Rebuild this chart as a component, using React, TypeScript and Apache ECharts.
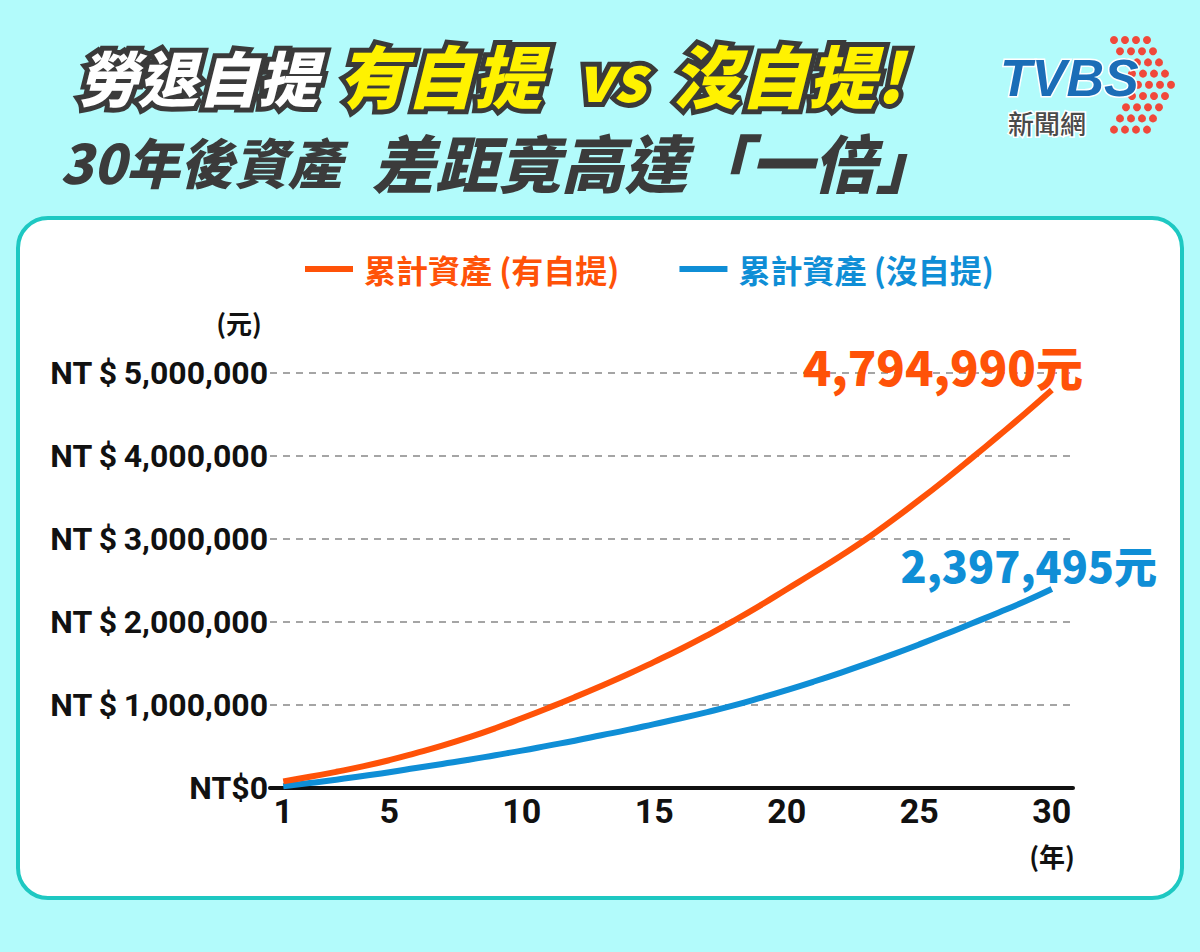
import React, { useEffect, useRef } from "react";
import * as echarts from "echarts";

const years = [1, 2, 3, 4, 5, 6, 7, 8, 9, 10, 11, 12, 13, 14, 15, 16, 17, 18, 19, 20, 21, 22, 23, 24, 25, 26, 27, 28, 29, 30];
const withdrawValues = [80000, 135000, 195000, 260000, 335000, 420000, 510000, 610000, 720000, 840000, 965000, 1095000, 1230000, 1370000, 1520000, 1675000, 1840000, 2015000, 2200000, 2395000, 2590000, 2790000, 3000000, 3230000, 3470000, 3720000, 3980000, 4245000, 4515000, 4794990];
const noWithdrawValues = [20000, 60000, 100000, 145000, 190000, 240000, 290000, 340000, 395000, 450000, 510000, 570000, 635000, 700000, 770000, 840000, 915000, 995000, 1085000, 1180000, 1280000, 1385000, 1495000, 1610000, 1730000, 1855000, 1985000, 2115000, 2250000, 2397495];
const xTickLabels = [1, 5, 10, 15, 20, 25, 30];
const yTickLabels = ["NT$0", "NT\u2009$\u20091,000,000", "NT\u2009$\u20092,000,000", "NT\u2009$\u20093,000,000", "NT\u2009$\u20094,000,000", "NT\u2009$\u20095,000,000"];
const seriesNames = ["累計資產 (有自提)", "累計資產 (沒自提)"];
const seriesColors = ["#ff5208", "#0f8ed6"];

const CJK = '"Noto Sans CJK TC", "Noto Sans CJK SC", sans-serif';
const NUM = 'Roboto, "Noto Sans", sans-serif';

function dots() {
  const out: any[] = [];
  const shifts = [0, 6, 12, 18, 24, 18, 12, 6, 0];
  for (let r = 0; r < 9; r++) {
    for (let c = 0; c < 4; c++) {
      out.push({
        type: "circle",
        shape: { cx: 1114 + shifts[r] + c * 11, cy: 40 + r * 11.2, r: 4 },
        style: { fill: "#f0483a" },
        z: 1,
      });
    }
  }
  return out;
}

export default function App() {
  const ref = useRef<HTMLDivElement>(null);
  useEffect(() => {
    if (!ref.current) return;
    const chart = echarts.init(ref.current, null, { renderer: "svg" });
    const fmt = (v: number) => v.toLocaleString("en-US") + "元";
    const titleStroke = { stroke: "#3a3a3a", lineWidth: 10, strokeFirst: true, shadowColor: "rgba(50,50,50,0.85)", shadowOffsetX: 3, shadowOffsetY: 3, shadowBlur: 0 };
    chart.setOption({
      animation: false,
      backgroundColor: "#b2fbfb",
      graphic: [
        {
          type: "rect",
          z: -100,
          shape: { x: 18, y: 218, width: 1164, height: 680, r: 30 },
          style: { fill: "#ffffff", stroke: "#1ec8c2", lineWidth: 4 },
        },
        {
          type: "text", x: 78, y: 75,
          style: { text: "勞退自提", font: `italic 900 60px ${CJK}`, fill: "#ffffff", verticalAlign: "middle", ...titleStroke },
        },
        {
          type: "text", x: 338, y: 73,
          style: { text: "有自提", font: `italic 900 68px ${CJK}`, fill: "#fff200", verticalAlign: "middle", ...titleStroke },
        },
        {
          type: "text", x: 576, y: 75,
          style: { text: "vs", font: `italic 900 62px ${CJK}`, fill: "#fff200", verticalAlign: "middle", ...titleStroke },
        },
        {
          type: "text", x: 672, y: 73,
          style: { text: "沒自提!", font: `italic 900 68px ${CJK}`, fill: "#fff200", verticalAlign: "middle", ...titleStroke },
        },
        {
          type: "text", x: 60, y: 160,
          style: { text: "30年後資產", font: `italic 900 54px ${CJK}`, fill: "#3b3b3b", verticalAlign: "middle" },
        },
        {
          type: "text", x: 372, y: 160,
          style: { text: "差距竟高達「一倍」", font: `italic 900 63px ${CJK}`, fill: "#3b3b3b", verticalAlign: "middle" },
        },
        ...dots(),
        {
          type: "text", x: 1000, y: 78, z: 2,
          style: { text: "TVBS", font: `italic bold 52px "Liberation Sans", sans-serif`, fill: "#1b6db7", stroke: "#ffffff", lineWidth: 3, strokeFirst: true, verticalAlign: "middle" },
        },
        {
          type: "text", x: 1008, y: 122, z: 2,
          style: { text: "新聞網", font: `500 26px ${CJK}`, fill: "#4a4a4a", stroke: "#ffffff", lineWidth: 3, strokeFirst: true, verticalAlign: "middle" },
        },
        {
          type: "text", x: 239, y: 322,
          style: { text: "(元)", font: `bold 26px ${CJK}`, fill: "#111", align: "center", verticalAlign: "middle" },
        },
        {
          type: "text", x: 1052, y: 855,
          style: { text: "(年)", font: `bold 26px ${CJK}`, fill: "#111", align: "center", verticalAlign: "middle" },
        },
      ],
      legend: {
        left: 300,
        top: 248,
        icon: "rect",
        itemWidth: 48,
        itemHeight: 6,
        itemGap: 60,
        textStyle: { fontSize: 32, fontWeight: "bold", fontFamily: CJK, padding: [0, 0, 0, 6] },
        data: seriesNames.map((n, i) => ({ name: n, textStyle: { color: seriesColors[i] } })),
      },
      grid: { left: 270, right: 127, top: 373, bottom: 164, outerBoundsMode: "none", containLabel: false },
      xAxis: {
        type: "value",
        min: 0.5,
        max: 30.8,
        axisLine: { lineStyle: { color: "#111", width: 4 } },
        axisTick: { show: false },
        splitLine: { show: false },
        axisLabel: {
          customValues: xTickLabels,
          formatter: (v: number) => String(v),
          fontFamily: NUM,
          fontWeight: "bold",
          fontSize: 34,
          color: "#111",
          margin: 6,
        },
      },
      yAxis: {
        type: "value",
        min: 0,
        max: 5000000,
        interval: 1000000,
        axisLine: { show: false },
        axisTick: { show: false },
        splitLine: { lineStyle: { color: "#888", type: [7, 6], width: 1.5 } },
        axisLabel: {
          formatter: (v: number) => yTickLabels[Math.round(v / 1000000)],
          fontFamily: NUM,
          fontWeight: "bold",
          fontSize: 32,
          color: "#111",
          margin: 2,
        },
      },
      series: [
        {
          name: seriesNames[0],
          type: "line",
          smooth: true,
          showSymbol: false,
          data: years.map((y, i) => [y, withdrawValues[i]]),
          itemStyle: { color: seriesColors[0] },
          lineStyle: { color: seriesColors[0], width: 6 },
          z: 3,
          endLabel: {
            show: true,
            formatter: (p: any) => fmt(p.value[1]),
            distance: 0,
            align: "center",
            verticalAlign: "middle",
            offset: [-109, -25],
            color: seriesColors[0],
            fontFamily: CJK,
            fontWeight: 900,
            fontSize: 47,
          },
        },
        {
          name: seriesNames[1],
          type: "line",
          smooth: true,
          showSymbol: false,
          data: years.map((y, i) => [y, noWithdrawValues[i]]),
          itemStyle: { color: seriesColors[1] },
          lineStyle: { color: seriesColors[1], width: 6 },
          z: 2,
          endLabel: {
            show: true,
            formatter: (p: any) => fmt(p.value[1]),
            distance: 0,
            align: "center",
            verticalAlign: "middle",
            offset: [-23, -25],
            color: seriesColors[1],
            fontFamily: CJK,
            fontWeight: 900,
            fontSize: 43,
          },
        },
      ],
    });
    return () => chart.dispose();
  }, []);
  return <div ref={ref} style={{ position: "absolute", left: 0, top: 0, width: 1200, height: 952 }} />;
}
